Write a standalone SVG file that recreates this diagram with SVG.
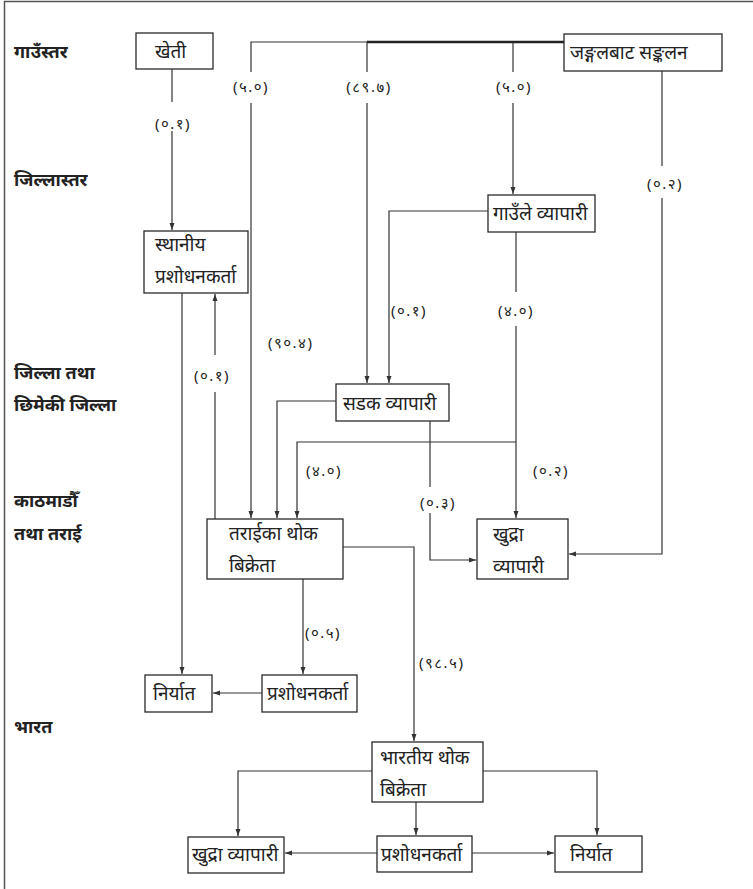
<svg xmlns="http://www.w3.org/2000/svg" width="753" height="889" viewBox="0 0 753 889">
<style>
.box{fill:#fff;stroke:#2a2a2a;stroke-width:1.3}
.ln{fill:none;stroke:#333;stroke-width:1.2}
.ar{fill:none;stroke:#333;stroke-width:1.2;marker-end:url(#ah)}
.t{font-family:"Noto Sans","Noto Sans Devanagari","Lohit Devanagari",sans-serif;font-size:19px;fill:#222}
.lv{font-family:"Noto Sans","Noto Sans Devanagari","Lohit Devanagari",sans-serif;font-size:18px;fill:#222;font-weight:bold}
.lb{font-family:"Noto Sans","Noto Sans Devanagari","Lohit Devanagari",sans-serif;font-size:15px;fill:#222;letter-spacing:1.5px}
.c{text-anchor:middle}
</style>
<defs>
<marker id="ah" markerWidth="8" markerHeight="6" refX="7" refY="3" orient="auto" markerUnits="userSpaceOnUse">
<path d="M0,0.5 L7,3 L0,5.5 z" fill="#333"/>
</marker>
</defs>
<rect width="753" height="889" fill="#fff"/>
<path d="M4.5,889 V1.5 H753" fill="none" stroke="#555" stroke-width="1.5"/>

<g id="levels">
<text class="lv" x="14" y="58">गाउँस्तर</text>
<text class="lv" x="14" y="186">जिल्लास्तर</text>
<text class="lv" x="14" y="379">जिल्ला  तथा</text>
<text class="lv" x="14" y="411">छिमेकी  जिल्ला</text>
<text class="lv" x="14" y="507">काठमाडौँ</text>
<text class="lv" x="14" y="540">तथा  तराई</text>
<text class="lv" x="14" y="733">भारत</text>
</g>

<g id="connectors">
<path class="ln" d="M251,72 V42 H367"/>
<path d="M367,42 H564" fill="none" stroke="#222" stroke-width="2.6"/>
<path class="ln" d="M367,42 V72"/>
<path class="ln" d="M513,42 V72"/>
<path class="ar" d="M251,103 V518"/>
<path class="ar" d="M367,103 V383"/>
<path class="ar" d="M513,103 V194"/>
<path class="ln" d="M172,69 V102"/>
<path class="ar" d="M172,131 V230"/>
<path class="ln" d="M662,71 V166"/>
<path class="ar" d="M662,198 V554 H569"/>
<path class="ar" d="M488,211 H389 V383"/>
<path class="ln" d="M516,232 V292"/>
<path class="ar" d="M516,326 V518"/>
<path class="ar" d="M516,442 H297 V518"/>
<path class="ar" d="M336,401 H277 V518"/>
<path class="ln" d="M430,421 V487"/>
<path class="ar" d="M430,513 V560 H476"/>
<path class="ln" d="M215,519 V392"/>
<path class="ar" d="M215,355 V294"/>
<path class="ar" d="M182,293 V674"/>
<path class="ar" d="M343,547 H414 V741"/>
<path class="ar" d="M303,579 V674"/>
<path class="ar" d="M262,693 H213"/>
<path class="ar" d="M372,771 H238 V836"/>
<path class="ar" d="M483,771 H597 V835"/>
<path class="ar" d="M416,802 V835"/>
<path class="ar" d="M377,853 H285"/>
<path class="ar" d="M472,853 H554"/>
</g>

<g id="labels">
<text class="lb c" x="251" y="92">(५.०)</text>
<text class="lb c" x="369" y="92">(८९.७)</text>
<text class="lb c" x="514" y="92">(५.०)</text>
<text class="lb c" x="173" y="129">(०.१)</text>
<text class="lb c" x="665" y="189">(०.२)</text>
<text class="lb" x="391" y="316">(०.१)</text>
<text class="lb c" x="516" y="316">(४.०)</text>
<text class="lb" x="268" y="348">(९०.४)</text>
<text class="lb c" x="212" y="381">(०.१)</text>
<text class="lb" x="306" y="476">(४.०)</text>
<text class="lb" x="533" y="476">(०.२)</text>
<text class="lb c" x="438" y="508">(०.३)</text>
<text class="lb" x="305" y="638">(०.५)</text>
<text class="lb" x="419" y="668">(९८.५)</text>
</g>

<g id="kheti"><rect class="box" x="136" y="33" width="77" height="36"/><text class="t" x="155" y="58">खेती</text></g>
<g id="jungle"><rect class="box" x="564" y="34" width="158" height="37"/><text class="t" x="570" y="59">जङ्गलबाट सङ्कलन</text></g>
<g id="sthaniya"><rect class="box" x="144" y="231" width="104" height="62"/><text class="t" x="155" y="251">स्थानीय</text><text class="t" x="155" y="283">प्रशोधनकर्ता</text></g>
<g id="gaunle"><rect class="box" x="488" y="195" width="107" height="37"/><text class="t" x="493" y="220">गाउँले व्यापारी</text></g>
<g id="sadak"><rect class="box" x="336" y="384" width="113" height="37"/><text class="t" x="343" y="410">सडक व्यापारी</text></g>
<g id="terai"><rect class="box" x="207" y="519" width="136" height="60"/><text class="t" x="229" y="540">तराईका थोक</text><text class="t" x="229" y="572">बिक्रेता</text></g>
<g id="khudra1"><rect class="box" x="477" y="519" width="91" height="60"/><text class="t" x="493" y="541">खुद्रा</text><text class="t" x="493" y="573">व्यापारी</text></g>
<g id="niryat1"><rect class="box" x="145" y="675" width="67" height="37"/><text class="t" x="153" y="700">निर्यात</text></g>
<g id="prashodhan1"><rect class="box" x="262" y="675" width="95" height="37"/><text class="t" x="267" y="700">प्रशोधनकर्ता</text></g>
<g id="bharatiya"><rect class="box" x="372" y="742" width="111" height="60"/><text class="t" x="380" y="764">भारतीय थोक</text><text class="t" x="380" y="796">बिक्रेता</text></g>
<g id="khudra2"><rect class="box" x="188" y="837" width="96" height="36"/><text class="t" x="192" y="861">खुद्रा व्यापारी</text></g>
<g id="prashodhan2"><rect class="box" x="377" y="836" width="95" height="36"/><text class="t" x="381" y="861">प्रशोधनकर्ता</text></g>
<g id="niryat2"><rect class="box" x="555" y="836" width="87" height="36"/><text class="t" x="570" y="861">निर्यात</text></g>
</svg>
